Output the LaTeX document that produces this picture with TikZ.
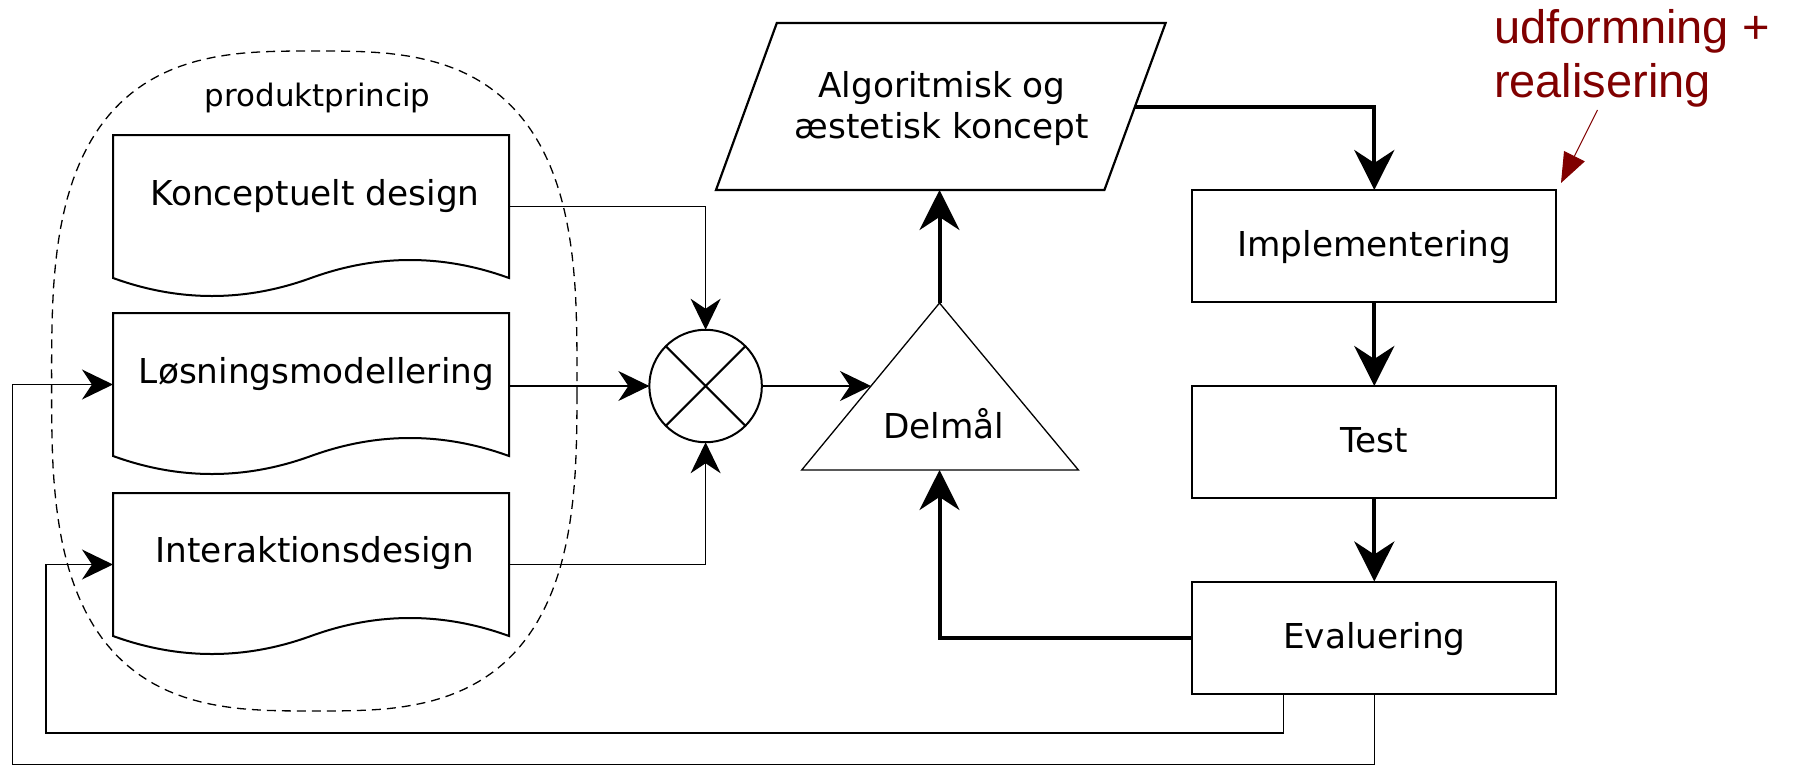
\documentclass[tikz,border=0pt]{standalone}
\usepackage{fontspec}
\setmainfont{DejaVu Sans}
\newfontfamily\notefont{Liberation Sans}
\usetikzlibrary{arrows.meta,shapes.geometric,calc}
\definecolor{notered}{RGB}{128,0,0}
\begin{document}
\begin{tikzpicture}[x=1pt,y=-1pt,
  every node/.style={inner sep=0pt, outer sep=0pt},
  docbox/.style={minimum width=396pt, minimum height=143pt, draw=none},
  docline/.style={line width=2pt, line join=miter},
  doctext/.style={font=\fontsize{34.3}{41}\selectfont, anchor=base},
  procbox/.style={draw, line width=2pt, minimum width=364pt, minimum height=112pt,
    font=\fontsize{34.3}{41}\selectfont, text height=21pt, text depth=0pt},
  flowthin/.style={line width=1.3pt, -{Stealth[length=31pt,width=30pt,inset=10pt]}},
  flowthick/.style={line width=4pt, -{Stealth[length=40pt,width=40pt,inset=13pt]}},
  groupline/.style={line width=1.3pt, dash pattern=on 9pt off 6pt},
]
\useasboundingbox (0,0) rectangle (1797,766);

% dashed grouping outline (superellipse)
\draw[groupline] plot[domain=0.5:360.5, samples=181]
  ({314.3+262.7*sign(cos(\x))*pow(abs(cos(\x)),2/3)},
   {381+330*sign(sin(\x))*pow(abs(sin(\x)),2/3)}) -- cycle;
\node[font=\fontsize{30.9}{36}\selectfont, anchor=base] (grp) at (317.6,106.7) {produktprincip};

% document shapes
\node[docbox] (kd) at (311,206.5) {};
\node[docbox] (ls) at (311,384.5) {};
\node[docbox] (id) at (311,564.5) {};
\foreach \d in {kd,ls,id}{
  \draw[docline] (\d.south west) -- (\d.north west) -- (\d.north east) -- (\d.south east)
    .. controls ($(\d.south east)+(-66,-24)$) and ($(\d.south)+(66,-24)$) .. (\d.south)
    .. controls ($(\d.south)+(-66,24)$) and ($(\d.south west)+(66,24)$) .. (\d.south west) -- cycle;
}
\node[doctext] (kdt) at ([xshift=4pt,yshift=1.5pt]kd.center) {Konceptuelt design};
\node[doctext] (lst) at ([xshift=5.5pt,yshift=1.5pt]ls.center) {Løsningsmodellering};
\node[doctext] (idt) at ([xshift=4pt,yshift=2.5pt]id.center) {Interaktionsdesign};

% combining junction
\node[circle, draw, line width=2pt, minimum size=112.5pt] (mix) at (705.6,386) {};
\draw[line width=2pt] (mix.north east) -- (mix.south west) (mix.north west) -- (mix.south east);

% goal triangle
\coordinate (tapex) at (939.5,303);
\coordinate (tbr) at (1078.4,470);
\coordinate (tbl) at (801.7,470);
\coordinate (tbase) at (939.5,470);
\coordinate (tleft) at (871,386);
\draw[line width=1.3pt, line join=miter] (tapex) -- (tbr) -- (tbl) -- cycle;
\node[font=\fontsize{34.3}{41}\selectfont, anchor=base] (goal) at (943.5,438) {Delmål};

% concept parallelogram
\coordinate (ptl) at (776.8,23);
\coordinate (ptr) at (1165.6,23);
\coordinate (pbr) at (1104.4,190);
\coordinate (pbl) at (716,190);
\coordinate (pbot) at (939.5,190);
\coordinate (pright) at ($(pbr)!0.5!(ptr)$);
\draw[line width=2.2pt, line join=miter] (ptl) -- (ptr) -- (pbr) -- (pbl) -- cycle;
\node[font=\fontsize{34.3}{41}\selectfont, align=center] (alg) at (942,108.6)
  {Algoritmisk og\\æstetisk koncept};

% process boxes
\node[procbox] (impl) at (1374.3,246) {Implementering};
\node[procbox] (test) at (1374.3,442) {Test};
\node[procbox] (eval) at (1374.3,637.5) {Evaluering};

% thin connectors
\draw[flowthin] (kd.east) -| (mix.north);
\draw[flowthin] (ls.east |- mix.west) -- (mix.west);
\draw[flowthin] (id.east) -| (mix.south);
\draw[flowthin] (mix.east) -- (tleft);

% thick connectors
\draw[flowthick] (tapex) -- (pbot);
\draw[flowthick] (pright) -| (impl.north);
\draw[flowthick] (impl) -- (test);
\draw[flowthick] (test) -- (eval);
\draw[flowthick] (eval.west) -| (tbase);

% feedback loops
\coordinate (e1) at ($(eval.south west)+(91.4,0)$);
\coordinate (fb1) at (45.9,733);
\coordinate (fb2) at (12.6,764.5);
\draw[flowthin] (e1) |- (fb1) |- (id.west);
\draw[flowthin] (eval.south) |- (fb2) |- (ls.west);

% annotation
\node[font=\notefont\fontsize{47}{54}\selectfont, text=notered, align=left, anchor=north west]
  (note) at (1494,9.2) {udformning +\\realisering};
\coordinate (nstart) at (1597.5,110);
\coordinate (nend) at (1561,183);
\draw[notered, line width=1pt, -{Triangle[length=30pt,width=23pt]}] (nstart) -- (nend);
\end{tikzpicture}
\end{document}
